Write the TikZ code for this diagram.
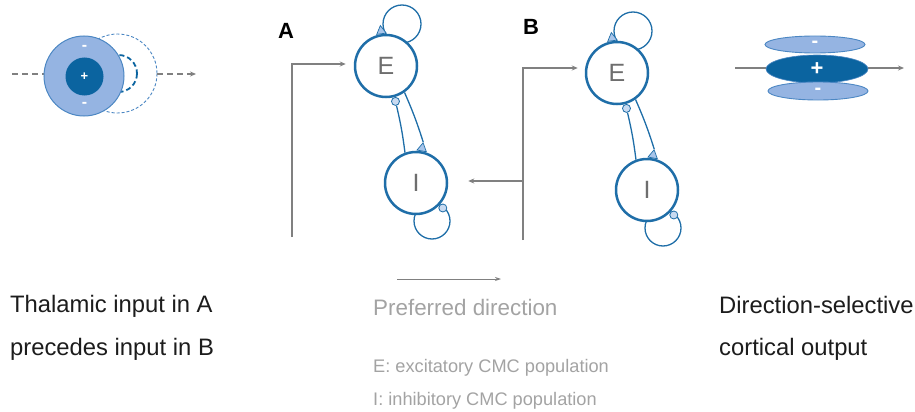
\documentclass[tikz,border=0pt]{standalone}
\usepackage{fontspec}
\setmainfont{Liberation Sans}
\usetikzlibrary{arrows.meta,shapes.geometric}
\definecolor{rflight}{HTML}{95B4E2}
\definecolor{rfedge}{HTML}{4C87C3}
\definecolor{rfdark}{HTML}{0B64A0}
\definecolor{nodeblue}{HTML}{1F6EA8}
\definecolor{trifill}{HTML}{A8C5EA}
\definecolor{inhfill}{HTML}{C8DAF1}
\definecolor{lgray}{HTML}{808080}
\definecolor{poptext}{HTML}{6E6E6E}
\definecolor{legtext}{HTML}{A3A3A3}
\definecolor{maintext}{HTML}{1C1C1C}
\newcommand\mycircuit[2]{%
\begin{scope}[shift={#2}]
  \draw[loopc] (402,24) circle[radius=19];
  \draw[loopc] (432,221) circle[radius=18];
  \node[pop] (E#1) at (386,66) {E};
  \node[pop] (I#1) at (416,183) {I};
  \node[syntri, rotate=8, anchor=side 2] (tE#1) at (E#1.98) {};
  \node[syntri, rotate=-10, anchor=side 2] (tI#1) at (I#1.80) {};
  \node[inh, anchor=105] (hE#1) at (E#1.-75) {};
  \node[inh, anchor=137] (hI#1) at (I#1.-43) {};
  \draw[loopc] (E#1.-55) to[bend left=3] (tI#1.corner 1);
  \draw[loopc] (I#1.110) to[bend right=3] (hE#1);
\end{scope}}
\begin{document}
\begin{tikzpicture}[x=1pt,y=-1pt,
  pop/.style={circle, draw=nodeblue, line width=2.5pt, fill=white, minimum size=62pt, inner sep=0pt, font=\fontsize{25}{25}\selectfont, text=poptext},
  loopc/.style={draw=nodeblue, line width=1.3pt},
  syntri/.style={regular polygon, regular polygon sides=3, draw=nodeblue, fill=trifill, line width=0.7pt, minimum size=11pt, inner sep=0pt},
  inh/.style={circle, draw=nodeblue, fill=inhfill, line width=0.8pt, minimum size=8pt, inner sep=0pt},
  gline/.style={draw=lgray, line width=1.3pt},
  garrow/.style={gline, -{Stealth[length=6pt,width=5pt]}},
  gdash/.style={gline, dash pattern=on 6pt off 4pt},
  maintxt/.style={anchor=base west, text=maintext, font=\fontsize{23.8}{28}\selectfont, inner sep=0pt},
  legtxt/.style={anchor=base west, text=legtext, inner sep=0pt},
  lbl/.style={anchor=base west, font=\fontsize{22}{22}\selectfont\bfseries, inner sep=0pt},
  sign/.style={text=white, inner sep=0pt, font=\fontsize{#1}{#1}\selectfont\bfseries}
]
\useasboundingbox (0,0) rectangle (915,412);

% ---------- thalamic receptive field (left)
\coordinate (inL) at (12,74);
\coordinate (outLs) at (157,74);
\coordinate (outLe) at (196,74);
\draw[gdash] (inL) -- (60,74);
\draw[draw=rfedge, line width=0.9pt, dash pattern=on 3pt off 2pt] (117.5,73.5) circle[radius=39.5];
\draw[draw=rfdark, line width=1.8pt, dash pattern=on 5pt off 3pt] (118.5,73.5) circle[radius=18.5];
\node[circle, fill=rflight, draw=rfedge, line width=1pt, minimum size=80pt, inner sep=0pt] (RF) at (84,76) {};
\node[circle, fill=rfdark, minimum size=38pt, inner sep=0pt] (RFc) at (84.5,76.5) {};
\node[sign=13] (plusL) at (RFc) {+};
\node[sign=16] (m1L) at (84.5,48) {-};
\node[sign=16] (m2L) at (84.5,105) {-};
\draw[gdash, -{Stealth[length=6pt,width=5pt]}] (outLs) -- (outLe);

% ---------- panel labels
\node[lbl] (labA) at (278,38) {A};
\node[lbl] (labB) at (523,35) {B};

% ---------- circuits
\mycircuit{A}{(0,0)}
\mycircuit{B}{(231,7)}

% ---------- inputs
\coordinate (inA) at (292,237);
\draw[gline, -{Stealth[length=6pt,width=5pt]}] (inA) |- ([xshift=-8pt,yshift=2pt]EA.west);
\coordinate (inB) at (523,240);
\coordinate (brB) at (523,181);
\draw[gline, -{Stealth[length=6pt,width=5pt]}] (inB) |- ([xshift=-7pt,yshift=5pt]EB.west);
\draw[gline, -{Stealth[length=6pt,width=5pt]}] (brB) -- ([xshift=20pt,yshift=2pt]IA.east);

% ---------- cortical output (right)
\coordinate (inR) at (735,68);
\coordinate (outR) at (904,68);
\draw[gline, -{Stealth[length=6pt,width=5pt]}] (inR) -- (outR);
\node[ellipse, fill=rflight, draw=rfedge, line width=0.9pt, minimum width=100pt, minimum height=17pt, inner sep=0pt] (top) at (815,44.5) {};
\node[sign=20] at (top) {-};
\node[ellipse, fill=rfdark, draw=rfedge, line width=0.6pt, minimum width=102pt, minimum height=28pt, inner sep=0pt] (mid) at (817,69) {};
\node[sign=22] at (mid) {+};
\node[ellipse, fill=rflight, draw=rfedge, line width=0.9pt, minimum width=100pt, minimum height=18pt, inner sep=0pt] (bot) at (818,91) {};
\node[sign=20] at (bot) {-};

% ---------- preferred direction
\coordinate (pdS) at (397,279);
\coordinate (pdE) at (501,279);
\draw[draw=lgray, line width=0.9pt, -{Stealth[length=6pt,width=4pt]}] (pdS) -- (pdE);
\node[legtxt, font=\fontsize{22.4}{24}\selectfont] (pd) at (373,315) {Preferred direction};
\node[legtxt, font=\fontsize{18.2}{20}\selectfont] (legE) at (373,372) {E: excitatory CMC population};
\node[legtxt, font=\fontsize{18.2}{20}\selectfont] (legI) at (373,405) {I: inhibitory CMC population};

% ---------- captions
\node[maintxt] (t1) at (10,312) {Thalamic input in A};
\node[maintxt] (t2) at (10,355) {precedes input in B};
\node[maintxt] (t3) at (719,313) {Direction-selective};
\node[maintxt] (t4) at (719,355) {cortical output};
\end{tikzpicture}
\end{document}
